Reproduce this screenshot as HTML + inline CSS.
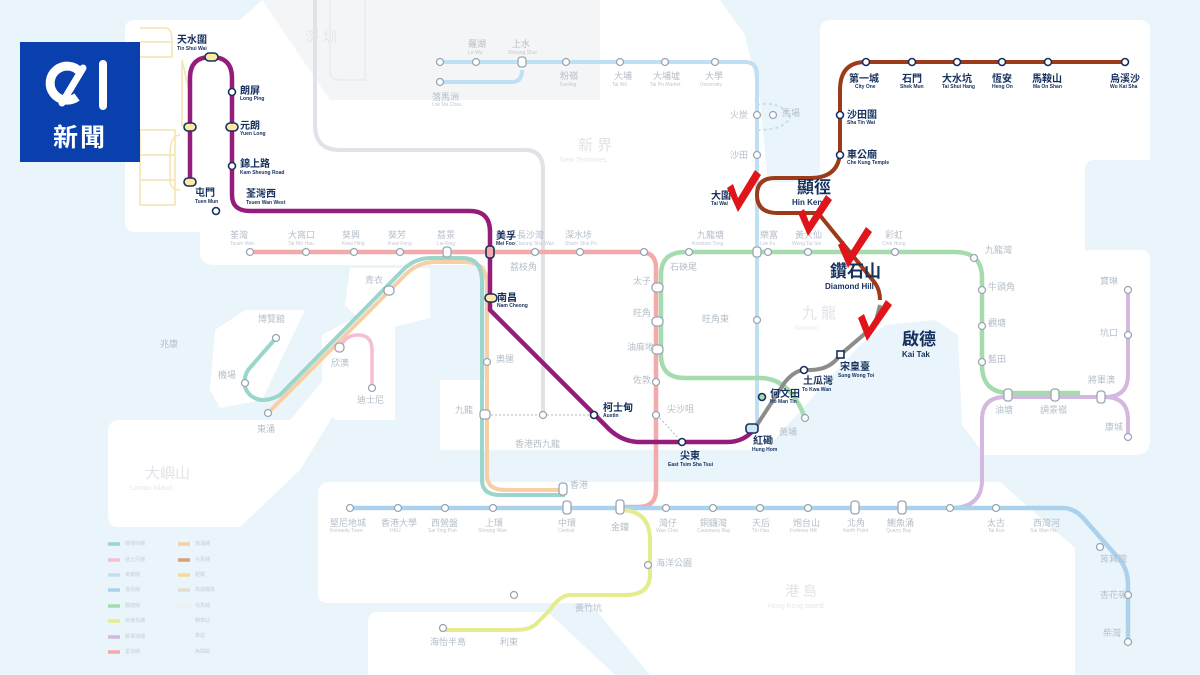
<!DOCTYPE html>
<html><head><meta charset="utf-8"><style>
html,body{margin:0;padding:0;width:1200px;height:675px;overflow:hidden;background:#eaf4fb}
svg{display:block}
text{font-family:"Liberation Sans","Noto Sans CJK TC",sans-serif}
.f{fill:#b4bec8;font-size:9px}
.fe{fill:#c0c8d0;font-size:5px}
.d{fill:#16305e;font-size:10px;font-weight:bold}
.de{fill:#16305e;font-size:5px;font-weight:bold}
.st{fill:#fff;stroke:#9aa6b2;stroke-width:1.3}
.sd{fill:#fff;stroke:#16305e;stroke-width:1.6}
</style></head><body>
<svg width="1200" height="675" viewBox="0 0 1200 675" xmlns="http://www.w3.org/2000/svg">
<rect width="1200" height="675" fill="#eaf4fb"/>
<!-- land -->
<path d="M125,30 Q125,20 135,20 L240,20 L262,0 L720,0 L745,35 L760,100 L768,182 L820,182 L820,30 Q820,20 830,20 L1140,20 Q1150,20 1150,30 L1150,160 L1095,160 Q1085,160 1085,170 L1085,250 L1140,250 Q1150,250 1150,260 L1150,440 Q1150,455 1135,455 L985,455 L962,425 L958,335 L935,320 L885,325 L860,345 L765,450 L440,450 L440,380 L485,380 L485,265 L215,265 Q200,265 200,252 L200,232 L135,232 Q125,232 125,222 Z" fill="#fff"/>
<path d="M262,0 L600,0 L600,100 L330,100 Z" fill="#f3f5f7"/>
<path d="M350,268 L430,268 L430,318 L372,332 L345,305 Z" fill="#fff"/>
<path d="M215,330 L245,310 L305,310 L262,400 L220,408 L210,390 Z" fill="#fff"/>
<path d="M322,335 L350,320 L395,320 L395,420 L335,420 L322,400 Z" fill="#fff"/>
<path d="M108,432 Q108,420 120,420 L290,420 L330,372 L355,380 L300,470 L240,527 L118,527 Q108,527 108,515 Z" fill="#fff"/>
<path d="M330,482 L1000,482 L1075,548 L1075,675 L368,675 L368,622 Q368,612 378,612 L548,612 L565,603 L328,603 Q318,603 318,593 L318,494 Q318,482 330,482 Z" fill="#fff"/>
<path d="M548,612 L565,603 L590,603 L650,675 L615,675 Z" fill="#eaf4fb"/>

<!-- watermark region labels -->
<text x="305" y="42" fill="#e4e7ea" font-size="14">深 圳</text>
<text x="578" y="150" fill="#dfe3e7" font-size="15">新 界</text>
<text x="560" y="162" fill="#e4e7ea" font-size="7">New Territories</text>
<text x="802" y="318" fill="#e0e4e8" font-size="15">九 龍</text>
<text x="795" y="330" fill="#e4e7ea" font-size="6">Kowloon</text>
<text x="145" y="478" fill="#e0e4e8" font-size="15">大嶼山</text>
<text x="130" y="490" fill="#e4e7ea" font-size="7">Lantau Island</text>
<text x="785" y="596" fill="#e0e4e8" font-size="14">港 島</text>
<text x="768" y="608" fill="#e4e7ea" font-size="7">Hong Kong Island</text>

<!-- light rail -->
<g fill="none" stroke="#f4e4b0" stroke-width="1.5">
<path d="M140,28 L165,28 Q172,28 172,40 L172,57 L140,57"/><path d="M140,42 L172,42"/>
<path d="M140,130 L175,130 L175,205 L140,205 Z"/><path d="M140,155 L175,155 M140,180 L175,180"/>
<path d="M182,60 L182,125 L190,125 L190,95 Z"/><path d="M180,135 Q170,135 170,155 L170,180 Q170,190 180,190"/>
</g>
<!-- XRL grey -->
<path d="M315,0 L315,125 Q315,150 340,150 L525,150 Q543,150 543,170 L543,415" fill="none" stroke="#dfe2e6" stroke-width="4"/>
<path d="M330,0 L330,70 Q330,80 340,80 L365,80 L365,0" fill="none" stroke="#ebedf0" stroke-width="2"/>
<!-- East rail -->
<g fill="none" stroke="#bfe0f3" stroke-width="4">
<path d="M440,62 L745,62 Q757,62 757,75 L757,428"/>
<path d="M440,82 L512,82 Q522,82 522,70"/>
</g>
<path d="M757,105 Q780,100 790,117 Q785,130 757,130" fill="none" stroke="#bfe0f3" stroke-width="2" stroke-dasharray="3,3"/>
<!-- Tung Chung / Airport Express -->
<path d="M268,413 L405,275 Q418,262 435,262 L465,262 Q487,262 487,285 L487,475 Q487,490 505,490 L565,490" fill="none" stroke="#f8cea4" stroke-width="4"/>
<path d="M276,338 L248,370 Q240,385 250,395 Q262,405 280,395 L403,270 Q414,258 432,258 L462,258 Q482,258 482,282 L482,480 Q482,495 500,495 L565,495" fill="none" stroke="#9bd5cb" stroke-width="4"/>
<!-- Disney -->
<path d="M340,348 Q345,335 358,335 Q372,335 372,350 L372,388" fill="none" stroke="#f4bed5" stroke-width="3.5"/>
<!-- Tsuen Wan -->
<path d="M250,252 L640,252 Q656,252 656,268 L656,490 Q656,507 638,507 L622,507" fill="none" stroke="#f4aaaa" stroke-width="4.5"/>
<!-- Kwun Tong -->
<path d="M805,418 Q790,378 760,378 L685,378 Q661,378 661,355 L661,275 Q661,252 685,252 L955,252 Q982,252 982,278 L982,365 Q982,393 1010,393 L1080,393" fill="none" stroke="#a5dbae" stroke-width="4.5"/>
<!-- TKO -->
<path d="M855,508 L950,508 Q982,508 982,480 L982,420 Q982,397 1005,397 L1105,397 Q1128,397 1128,375 L1128,292 M1105,397 Q1128,397 1128,420 L1128,435" fill="none" stroke="#d3b9df" stroke-width="4"/>
<!-- Island -->
<path d="M350,508 L1063,508 Q1075,508 1085,520 L1120,560 Q1128,570 1128,585 L1128,643" fill="none" stroke="#abd1ec" stroke-width="4.5"/>
<!-- South Island -->
<path d="M620,510 Q650,510 650,540 L650,575 Q650,595 625,595 L570,595 Q560,595 550,610 L535,625 Q528,630 515,630 L440,630" fill="none" stroke="#e5ec8c" stroke-width="4"/>
<!-- Kowloon dotted -->
<path d="M483,415 L600,415" stroke="#b0b8c0" stroke-width="1" stroke-dasharray="2,2"/>
<path d="M657,415 L680,440" stroke="#b0b8c0" stroke-width="1" stroke-dasharray="2,2"/>

<!-- Tuen Ma (purple) -->
<path d="M190,182 L190,78 Q190,57 211,57 Q232,57 232,78 L232,195 Q232,211 250,211 L470,211 Q490,211 490,232 L490,310 L605,425 Q620,442 640,442 L727,442 Q745,442 755,428" fill="none" stroke="#941d7c" stroke-width="4.5"/>
<!-- brown -->
<path d="M1125,62 L866,62 Q840,62 840,90 L840,150 Q840,178 810,178 L775,178 Q757,178 757,195" fill="none" stroke="#9c3b1a" stroke-width="4"/>
<path d="M757,195 Q757,213 778,213 L818,213 L875,283 Q880,290 880,300" fill="none" stroke="#9c3b1a" stroke-width="4"/>
<!-- grey Kai Tak section -->
<path d="M880,305 L875,325 L840,355 Q830,370 810,370 L805,370 Q795,370 785,382 L755,428" fill="none" stroke="#8c8c8c" stroke-width="4"/>

<!-- faded stations -->
<g class="st">
<circle cx="440" cy="62" r="3.5"/><circle cx="476" cy="62" r="3.5"/><rect x="518" y="57" width="8" height="10" rx="3"/><circle cx="566" cy="62" r="3.5"/><circle cx="620" cy="62" r="3.5"/><circle cx="665" cy="62" r="3.5"/><circle cx="715" cy="62" r="3.5"/><circle cx="440" cy="82" r="3.5"/>
<circle cx="757" cy="115" r="3.5"/><circle cx="773" cy="115" r="3.5"/><circle cx="757" cy="155" r="3.5"/><circle cx="757" cy="320" r="3.5"/>
<circle cx="250" cy="252" r="3.5"/><circle cx="306" cy="252" r="3.5"/><circle cx="354" cy="252" r="3.5"/><circle cx="400" cy="252" r="3.5"/><rect x="443" y="247" width="8" height="10" rx="3"/><circle cx="535" cy="252" r="3.5"/><circle cx="580" cy="252" r="3.5"/>
<circle cx="644" cy="252" r="3.5"/><circle cx="689" cy="252" r="3.5"/><rect x="753" y="247" width="8" height="10" rx="3"/><circle cx="768" cy="252" r="3.5"/><circle cx="808" cy="252" r="3.5"/><circle cx="895" cy="252" r="3.5"/><circle cx="974" cy="258" r="3.5"/>
<rect x="652" y="283" width="11" height="9" rx="4"/><rect x="652" y="317" width="11" height="9" rx="4"/><rect x="652" y="345" width="11" height="9" rx="4"/><circle cx="656" cy="382" r="3.5"/><circle cx="656" cy="415" r="3.5"/>
<circle cx="982" cy="290" r="3.5"/><circle cx="982" cy="326" r="3.5"/><circle cx="982" cy="362" r="3.5"/>
<rect x="1004" y="389" width="8" height="12" rx="3"/><rect x="1051" y="389" width="8" height="12" rx="3"/><rect x="1097" y="391" width="8" height="12" rx="3"/>
<circle cx="1128" cy="290" r="3.5"/><circle cx="1128" cy="335" r="3.5"/><circle cx="1128" cy="437" r="3.5"/>
<circle cx="805" cy="418" r="3.5"/><circle cx="487" cy="362" r="3.5"/><rect x="480" y="410" width="10" height="9" rx="3"/><circle cx="543" cy="415" r="3.5"/>
<rect x="559" y="483" width="8" height="12" rx="3"/><rect x="384" y="286" width="10" height="9" rx="4"/><rect x="335" y="343" width="9" height="9" rx="4"/>
<circle cx="276" cy="338" r="3.5"/><circle cx="245" cy="383" r="3.5"/><circle cx="268" cy="413" r="3.5"/><circle cx="372" cy="388" r="3.5"/>
<circle cx="350" cy="508" r="3.5"/><circle cx="398" cy="508" r="3.5"/><circle cx="445" cy="508" r="3.5"/><circle cx="493" cy="508" r="3.5"/><rect x="563" y="501" width="8" height="13" rx="3"/><rect x="616" y="500" width="8" height="14" rx="3"/>
<circle cx="666" cy="508" r="3.5"/><circle cx="713" cy="508" r="3.5"/><circle cx="760" cy="508" r="3.5"/><circle cx="808" cy="508" r="3.5"/><rect x="851" y="501" width="8" height="13" rx="3"/><rect x="898" y="501" width="8" height="13" rx="3"/><circle cx="950" cy="508" r="3.5"/><circle cx="996" cy="508" r="3.5"/>
<circle cx="1100" cy="547" r="3.5"/><circle cx="1128" cy="595" r="3.5"/><circle cx="1128" cy="642" r="3.5"/>
<circle cx="648" cy="565" r="3.5"/><circle cx="514" cy="595" r="3.5"/><circle cx="443" cy="628" r="3.5"/>
</g>
<!-- dark stations -->
<g class="sd">
<rect x="205" y="53" width="13" height="8" rx="4" fill="#fde9a0"/><circle cx="232" cy="92" r="3.5"/><rect x="226" y="123" width="12" height="8" rx="4" fill="#fde9a0"/><rect x="184" y="123" width="12" height="8" rx="4" fill="#fde9a0"/><circle cx="232" cy="166" r="3.5"/><rect x="184" y="178" width="12" height="8" rx="4" fill="#fde9a0"/><circle cx="216" cy="211" r="3.5"/>
<rect x="486" y="246" width="8" height="12" rx="3" fill="#f4aaaa"/><rect x="485" y="294" width="12" height="8" rx="4" fill="#fde9a0"/>
<circle cx="594" cy="415" r="3.5"/><circle cx="682" cy="442" r="3.5"/><rect x="746" y="424" width="12" height="9" rx="3" fill="#cfe6f6"/>
<circle cx="866" cy="62" r="3.5"/><circle cx="912" cy="62" r="3.5"/><circle cx="957" cy="62" r="3.5"/><circle cx="1002" cy="62" r="3.5"/><circle cx="1048" cy="62" r="3.5"/><circle cx="1125" cy="62" r="3.5"/>
<circle cx="840" cy="115" r="3.5"/><circle cx="840" cy="155" r="3.5"/>
<circle cx="804" cy="370" r="3.5"/><rect x="837" y="351" width="7" height="7"/><circle cx="762" cy="397" r="3.5" fill="#a5dbae"/>
</g>

<!-- dark labels -->
<text class="d" x="177" y="43">天水圍</text><text class="de" x="177" y="50">Tin Shui Wai</text>
<text class="d" x="240" y="94">朗屏</text><text class="de" x="240" y="100">Long Ping</text>
<text class="d" x="240" y="129">元朗</text><text class="de" x="240" y="135">Yuen Long</text>
<text class="d" x="240" y="167">錦上路</text><text class="de" x="240" y="174">Kam Sheung Road</text>
<text class="d" x="195" y="196">屯門</text><text class="de" x="195" y="203">Tuen Mun</text>
<text class="d" x="246" y="197">荃灣西</text><text class="de" x="246" y="204">Tsuen Wan West</text>
<text class="d" x="496" y="239" font-size="9">美孚</text><text class="de" x="496" y="245">Mei Foo</text>
<text class="d" x="497" y="301">南昌</text><text class="de" x="497" y="307">Nam Cheong</text>
<text class="d" x="603" y="411">柯士甸</text><text class="de" x="603" y="417">Austin</text>
<text class="d" x="680" y="459">尖東</text><text class="de" x="668" y="466">East Tsim Sha Tsui</text>
<text class="d" x="753" y="444">紅磡</text><text class="de" x="752" y="451">Hung Hom</text>
<text class="d" x="770" y="397">何文田</text><text class="de" x="770" y="403">Ho Man Tin</text>
<text class="d" x="803" y="384">土瓜灣</text><text class="de" x="802" y="391">To Kwa Wan</text>
<text class="d" x="840" y="370" font-size="8">宋皇臺</text><text class="de" x="838" y="377">Sung Wong Toi</text>
<text class="d" x="849" y="82">第一城</text><text class="de" x="855" y="88">City One</text>
<text class="d" x="902" y="82">石門</text><text class="de" x="900" y="88">Shek Mun</text>
<text class="d" x="942" y="82">大水坑</text><text class="de" x="942" y="88">Tai Shui Hang</text>
<text class="d" x="992" y="82">恆安</text><text class="de" x="992" y="88">Heng On</text>
<text class="d" x="1032" y="82">馬鞍山</text><text class="de" x="1033" y="88">Ma On Shan</text>
<text class="d" x="1110" y="82">烏溪沙</text><text class="de" x="1110" y="88">Wu Kai Sha</text>
<text class="d" x="847" y="118">沙田圍</text><text class="de" x="847" y="124">Sha Tin Wai</text>
<text class="d" x="847" y="158">車公廟</text><text class="de" x="847" y="164">Che Kung Temple</text>
<text class="d" x="711" y="199">大圍</text><text class="de" x="711" y="205">Tai Wai</text>
<text x="797" y="193" fill="#16305e" font-size="17" font-weight="bold">顯徑</text><text x="792" y="205" fill="#16305e" font-size="8" font-weight="bold">Hin Keng</text>
<text x="830" y="277" fill="#16305e" font-size="17" font-weight="bold">鑽石山</text><text x="825" y="289" fill="#16305e" font-size="8" font-weight="bold">Diamond Hill</text>
<text x="902" y="345" fill="#16305e" font-size="17" font-weight="bold">啟德</text><text x="902" y="357" fill="#16305e" font-size="8" font-weight="bold">Kai Tak</text>

<!-- faded labels -->
<g class="f">
<text x="468" y="47">羅湖</text><text x="512" y="47">上水</text><text x="560" y="79">粉嶺</text><text x="614" y="79">大埔</text><text x="653" y="79">大埔墟</text><text x="705" y="79">大學</text><text x="432" y="100">落馬洲</text>
<text x="730" y="118">火炭</text><text x="782" y="116">馬場</text><text x="730" y="158">沙田</text>
<text x="230" y="238">荃灣</text><text x="288" y="238">大窩口</text><text x="342" y="238">葵興</text><text x="388" y="238">葵芳</text><text x="437" y="238">荔景</text><text x="517" y="238">長沙灣</text><text x="565" y="238">深水埗</text><text x="697" y="238">九龍塘</text><text x="760" y="238">樂富</text><text x="795" y="238">黃大仙</text><text x="885" y="238">彩虹</text><text x="985" y="253">九龍灣</text>
<text x="510" y="270">荔枝角</text><text x="633" y="284">太子</text><text x="670" y="270">石硤尾</text><text x="633" y="316">旺角</text><text x="702" y="322">旺角東</text><text x="627" y="350">油麻地</text><text x="633" y="383">佐敦</text><text x="667" y="412">尖沙咀</text>
<text x="496" y="362">奧運</text><text x="455" y="413">九龍</text><text x="515" y="447">香港西九龍</text><text x="570" y="488">香港</text>
<text x="365" y="283">青衣</text><text x="258" y="322">博覽館</text><text x="218" y="378">機場</text><text x="331" y="366">欣澳</text><text x="357" y="403">迪士尼</text><text x="257" y="432">東涌</text><text x="160" y="347">兆康</text>
<text x="988" y="290">牛頭角</text><text x="988" y="326">觀塘</text><text x="988" y="362">藍田</text><text x="1100" y="284">寶琳</text><text x="1100" y="336">坑口</text><text x="1088" y="383">將軍澳</text><text x="995" y="413">油塘</text><text x="1040" y="413">調景嶺</text><text x="1105" y="430">康城</text><text x="779" y="435">黃埔</text>
<text x="330" y="526">堅尼地城</text><text x="381" y="526">香港大學</text><text x="431" y="526">西營盤</text><text x="485" y="526">上環</text><text x="558" y="526">中環</text><text x="611" y="530">金鐘</text><text x="659" y="526">灣仔</text><text x="700" y="526">銅鑼灣</text><text x="752" y="526">天后</text><text x="793" y="526">炮台山</text><text x="847" y="526">北角</text><text x="887" y="526">鰂魚涌</text><text x="987" y="526">太古</text><text x="1033" y="526">西灣河</text>
<text x="1100" y="562">筲箕灣</text><text x="1100" y="598">杏花邨</text><text x="1103" y="636">柴灣</text><text x="656" y="566">海洋公園</text><text x="575" y="611">黃竹坑</text><text x="430" y="645">海怡半島</text><text x="500" y="645">利東</text>
</g>
<g class="fe">
<text x="468" y="54">Lo Wu</text><text x="508" y="54">Sheung Shui</text><text x="560" y="86">Fanling</text><text x="612" y="86">Tai Wo</text><text x="650" y="86">Tai Po Market</text><text x="700" y="86">University</text><text x="432" y="106">Lok Ma Chau</text>
<text x="230" y="245">Tsuen Wan</text><text x="288" y="245">Tai Wo Hau</text><text x="342" y="245">Kwai Hing</text><text x="388" y="245">Kwai Fong</text><text x="437" y="245">Lai King</text><text x="515" y="245">Cheung Sha Wan</text><text x="565" y="245">Sham Shui Po</text><text x="692" y="245">Kowloon Tong</text><text x="760" y="245">Lok Fu</text><text x="792" y="245">Wong Tai Sin</text><text x="882" y="245">Choi Hung</text>
<text x="330" y="532">Kennedy Town</text><text x="390" y="532">HKU</text><text x="428" y="532">Sai Ying Pun</text><text x="478" y="532">Sheung Wan</text><text x="558" y="532">Central</text><text x="656" y="532">Wan Chai</text><text x="697" y="532">Causeway Bay</text><text x="752" y="532">Tin Hau</text><text x="790" y="532">Fortress Hill</text><text x="843" y="532">North Point</text><text x="886" y="532">Quarry Bay</text><text x="988" y="532">Tai Koo</text><text x="1030" y="532">Sai Wan Ho</text>
</g>

<!-- legend -->
<g stroke-width="3.5">
<line x1="108" y1="544" x2="120" y2="544" stroke="#9bd5cb"/><line x1="108" y1="560" x2="120" y2="560" stroke="#f4bed5"/><line x1="108" y1="575" x2="120" y2="575" stroke="#bfe0f3"/><line x1="108" y1="590" x2="120" y2="590" stroke="#abd1ec"/><line x1="108" y1="606" x2="120" y2="606" stroke="#a5dbae"/><line x1="108" y1="621" x2="120" y2="621" stroke="#e5ec8c"/><line x1="108" y1="637" x2="120" y2="637" stroke="#d3b9df"/><line x1="108" y1="652" x2="120" y2="652" stroke="#f4aaaa"/>
<line x1="178" y1="544" x2="190" y2="544" stroke="#f8cea4"/><line x1="178" y1="560" x2="190" y2="560" stroke="#d8a080"/><line x1="178" y1="575" x2="190" y2="575" stroke="#f4dc90"/><line x1="178" y1="590" x2="190" y2="590" stroke="#e6dad2"/><line x1="178" y1="606" x2="190" y2="606" stroke="#eef0f2"/>
</g>
<g fill="#c8d0d8" font-size="5"><text x="125" y="545">機場快綫</text><text x="125" y="561">迪士尼綫</text><text x="125" y="576">東鐵綫</text><text x="125" y="591">港島綫</text><text x="125" y="607">觀塘綫</text><text x="125" y="622">南港島綫</text><text x="125" y="638">將軍澳綫</text><text x="125" y="653">荃灣綫</text><text x="195" y="545">東涌綫</text><text x="195" y="561">屯馬綫</text><text x="195" y="576">輕鐵</text><text x="195" y="591">高速鐵路</text><text x="195" y="607">屯馬綫</text><text x="195" y="622">轉車站</text><text x="195" y="637">車站</text><text x="195" y="653">無障礙</text></g>

<!-- check marks -->
<g fill="#e0151b">
<path d="M727,188 L733,184 L738,198 L755,170 L761,175 L738,212 Z"/>
<path d="M798,213 L804,209 L809,222 L826,195 L832,200 L808,236 Z"/>
<path d="M838,245 L844,241 L849,254 L866,227 L872,232 L848,268 Z"/>
<path d="M858,318 L864,314 L869,327 L886,300 L892,305 L867,341 Z"/>
</g>

<!-- 01 logo -->
<rect x="20" y="42" width="120" height="120" fill="#0a3fae"/>
<path d="M77,97 A17,17 0 1 1 80,72" fill="none" stroke="#fff" stroke-width="9"/>
<path d="M83,68 L62,103" stroke="#fff" stroke-width="7" stroke-linecap="round"/>
<rect x="99" y="60" width="8" height="50" rx="4" fill="#fff"/>
<text x="80" y="146" text-anchor="middle" fill="#fff" font-size="25" font-weight="bold" font-family="'Noto Sans CJK TC',sans-serif" letter-spacing="2">新聞</text>
</svg>
</body></html>
